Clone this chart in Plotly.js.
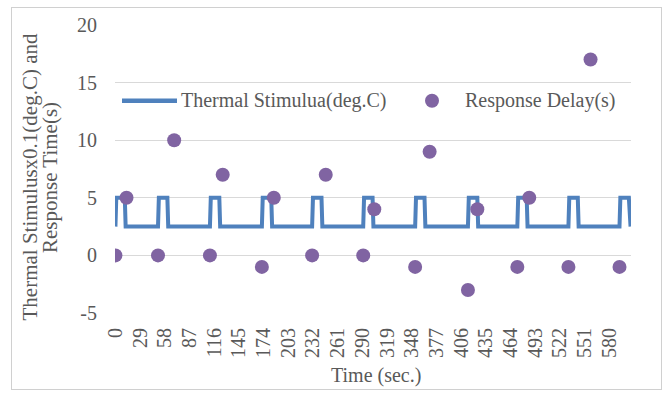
<!DOCTYPE html>
<html>
<head>
<meta charset="utf-8">
<script src="https://cdn.plot.ly/plotly-3.0.1.min.js"></script>
<style>
  html, body { margin: 0; padding: 0; background: #ffffff; }
  #wrap { position: relative; width: 665px; height: 393px; }
  #chart { position: absolute; left: 0; top: 0; width: 665px; height: 393px; }
  #frame { position: absolute; left: 11px; top: 7px; width: 651px; height: 383px;
           box-sizing: border-box; border: 1px solid #d0d0d0; pointer-events: none; }
</style>
</head>
<body>
<div id="wrap">
  <div id="chart"></div>
  <div id="frame"></div>
</div>
<script>
// Thermal stimulus (x0.1 deg.C), as breakpoints of the square wave: time (s) and level
const stimTime  = [0, 1, 11, 12,  50, 51, 61, 62,  111, 112, 122, 123,  172, 173, 183, 184,
                   231, 232, 242, 243,  291, 292, 302, 303,  352, 353, 363, 364,
                   414, 415, 425, 426,  472, 473, 483, 484,  532, 533, 543, 544,
                   592, 593, 603, 604,  605];
const stimLevel = [2.5, 5, 5, 2.5,  2.5, 5, 5, 2.5,  2.5, 5, 5, 2.5,  2.5, 5, 5, 2.5,
                   2.5, 5, 5, 2.5,  2.5, 5, 5, 2.5,  2.5, 5, 5, 2.5,
                   2.5, 5, 5, 2.5,  2.5, 5, 5, 2.5,  2.5, 5, 5, 2.5,
                   2.5, 5, 5, 2.5,  2.5];

// Response delay (s) at each time (s)
const respTime  = [0, 13, 50, 69, 111, 126, 172, 186, 231, 247, 291, 304,
                   352, 369, 414, 425, 472, 486, 532, 558, 592];
const respDelay = [0, 5, 0, 10, 0, 7, -1, 5, 0, 7, 0, 4,
                   -1, 9, -3, 4, -1, 5, -1, 17, -1];

// Category labels shown along the time axis
const timeTicks = [0, 29, 58, 87, 116, 145, 174, 203, 232, 261, 290, 319,
                   348, 377, 406, 435, 464, 493, 522, 551, 580];
const timeTickText = timeTicks.map(String);

// Value axis labels
const valueTicks = [-5, 0, 5, 10, 15, 20];
const valueTickText = ['-5', '0', '5', '10', '15', '20'];

const seriesNames = ['Thermal Stimulua(deg.C)', 'Response Delay(s)'];
const yTitleLines = ['Thermal Stimulusx0.1(deg.C) and', 'Response Time(s)'];
const xTitle = 'Time (sec.)';

const BLUE = '#4f81bd';
const PURPLE = '#8064a2';
const TEXT = '#595959';
const FONT = 'Liberation Serif, Times New Roman, serif';

const traces = [
  {
    x: stimTime, y: stimLevel, name: seriesNames[0],
    type: 'scatter', mode: 'lines',
    line: { color: BLUE, width: 4, shape: 'linear' },
    hoverinfo: 'skip'
  },
  {
    x: respTime, y: respDelay, name: seriesNames[1],
    type: 'scatter', mode: 'markers',
    marker: { color: PURPLE, size: 14, line: { width: 0 } },
    hoverinfo: 'skip'
  }
];

// Pixel helpers for the plot area (115..631 horizontally, 25..313 vertically)
const L = 115, R = 631, T = 25, B = 313;
const px = v => (v - L) / (R - L);
const py = v => (B - v) / (B - T);

const legendY = py(100.7);

const layout = {
  width: 665, height: 393,
  margin: { l: L, r: 665 - R, t: T, b: 393 - B, pad: 0 },
  paper_bgcolor: '#ffffff',
  plot_bgcolor: '#ffffff',
  showlegend: false,
  font: { family: FONT, color: TEXT, size: 20 },
  xaxis: {
    type: 'linear',
    range: [-0.5, 605.5],
    tickmode: 'array', tickvals: timeTicks, ticktext: timeTickText,
    tickangle: -90,
    showgrid: false, zeroline: false, showline: false, ticks: '',
    ticklabelstandoff: 10,
    tickfont: { family: FONT, color: TEXT, size: 20 }
  },
  yaxis: {
    range: [-5, 20],
    tickmode: 'array', tickvals: valueTicks, ticktext: valueTickText,
    showgrid: true, gridcolor: '#d9d9d9', gridwidth: 1.3,
    zeroline: false, showline: false, ticks: '',
    ticklabelstandoff: 17,
    tickfont: { family: FONT, color: TEXT, size: 20 }
  },
  shapes: [
    // legend swatches
    { type: 'line', xref: 'paper', yref: 'paper',
      x0: px(122), x1: px(177), y0: legendY, y1: legendY,
      line: { color: BLUE, width: 4.5 } },
    { type: 'circle', xref: 'paper', yref: 'paper',
      xsizemode: 'pixel', ysizemode: 'pixel',
      xanchor: px(432), yanchor: legendY,
      x0: -7, x1: 7, y0: -7, y1: 7,
      fillcolor: PURPLE, line: { width: 0 } }
  ],
  annotations: [
    { xref: 'paper', yref: 'paper', x: px(179), y: legendY,
      xanchor: 'left', yanchor: 'middle', showarrow: false,
      text: seriesNames[0], font: { family: FONT, color: TEXT, size: 20 } },
    { xref: 'paper', yref: 'paper', x: px(463), y: legendY,
      xanchor: 'left', yanchor: 'middle', showarrow: false,
      text: seriesNames[1], font: { family: FONT, color: TEXT, size: 20 } },
    { xref: 'paper', yref: 'paper', x: px(29.5), y: py(177),
      xanchor: 'center', yanchor: 'middle', showarrow: false, textangle: -90,
      text: yTitleLines[0], font: { family: FONT, color: TEXT, size: 21 } },
    { xref: 'paper', yref: 'paper', x: px(50), y: py(178),
      xanchor: 'center', yanchor: 'middle', showarrow: false, textangle: -90,
      text: yTitleLines[1], font: { family: FONT, color: TEXT, size: 21 } },
    { xref: 'paper', yref: 'paper', x: px(376), y: py(375),
      xanchor: 'center', yanchor: 'middle', showarrow: false,
      text: xTitle, font: { family: FONT, color: TEXT, size: 20 } }
  ]
};

Plotly.newPlot('chart', traces, layout, { displayModeBar: false, staticPlot: true });
</script>
</body>
</html>
